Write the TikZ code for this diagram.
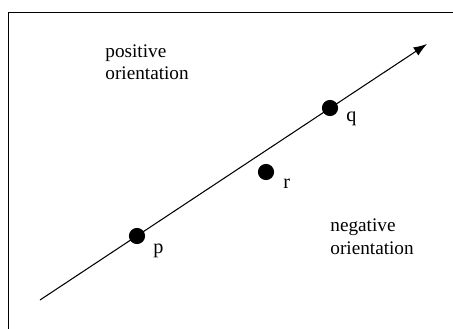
\documentclass[tikz,border=0pt]{standalone}
\usepackage{fontspec}
\setmainfont{Liberation Serif}
\usetikzlibrary{arrows.meta}
\begin{document}
\begin{tikzpicture}[x=0.52pt, y=-0.52pt,
    dot/.style={circle, fill=black, inner sep=0pt, minimum size=8.4pt},
    lbl/.style={anchor=base west, inner sep=0pt, font=\fontsize{10.5}{12}\selectfont},
    region/.style={anchor=base west, inner sep=0pt, align=left,
        font=\fontsize{10}{11.5}\selectfont}]
    \useasboundingbox (0,0) rectangle (453,329);
    % Rahmen
    \draw[line width=0.5pt] (8,329) -- (8,12) -- (453,12);

    % Gerichtete Gerade durch p und q
    \coordinate (start) at (40,300);
    \coordinate (tip) at (427,44);
    \draw[-{Latex[length=7pt, width=5pt]}, line width=0.55pt] (start) -- (tip);

    \node[dot] (p) at (137,236) {};
    \node[dot] (q) at (330,108) {};
    \node[dot] (r) at (266,172) {};
    \node[lbl] (plabel) at (153,253) {p};
    \node[lbl] (qlabel) at (346,122) {q};
    \node[lbl] (rlabel) at (283,188) {r};

    % Seiten der Geraden
    \node[region] (pos) at (105,80) {positive\\orientation};
    \node[region] (neg) at (330,254) {negative\\orientation};
\end{tikzpicture}
\end{document}
